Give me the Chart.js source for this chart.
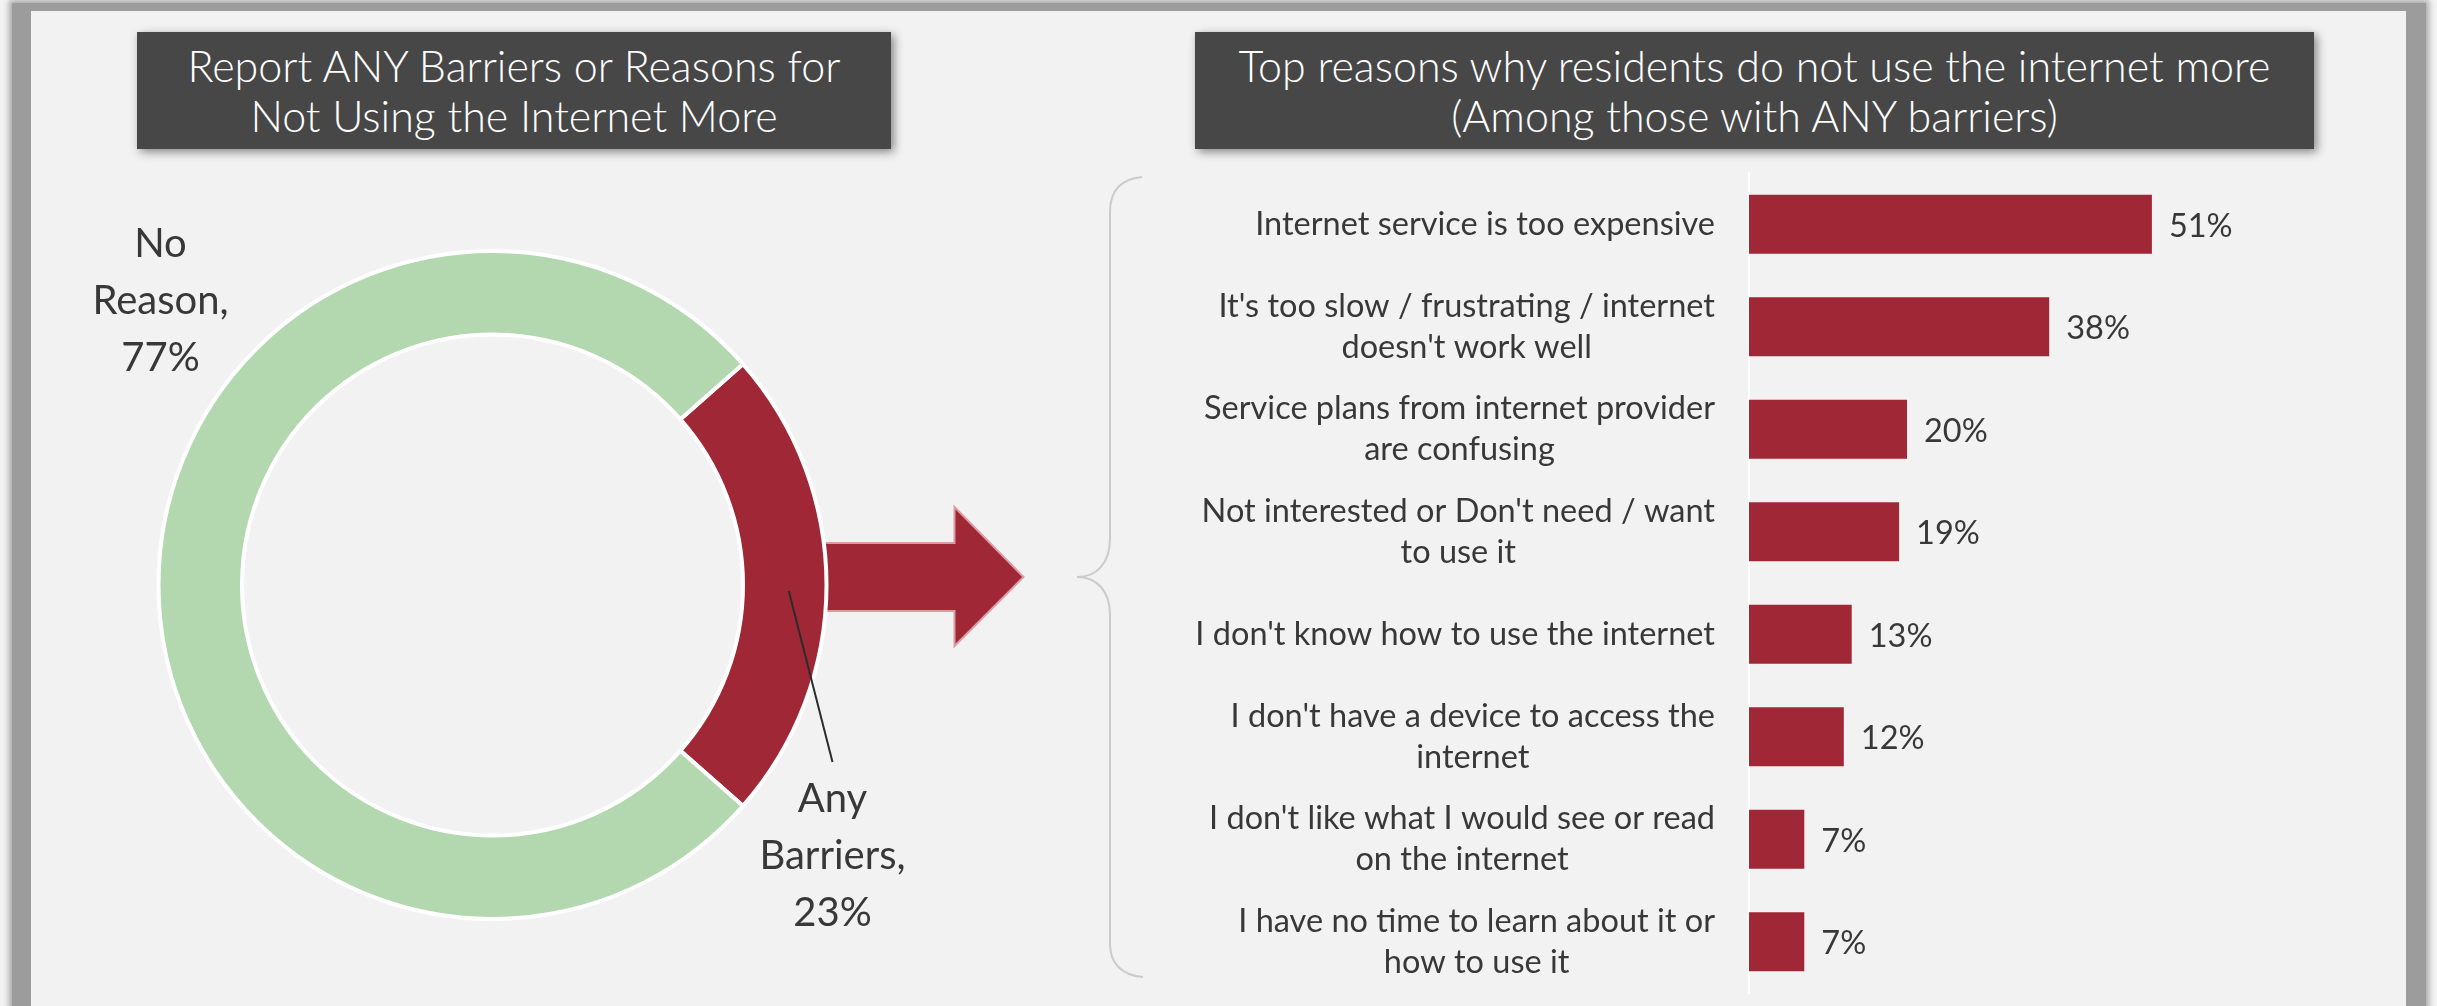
<!DOCTYPE html>
<html>
<head>
<meta charset="utf-8">
<script src="https://cdn.jsdelivr.net/npm/chart.js@4.4.0/dist/chart.umd.min.js"></script>
<style>
  body { margin: 0; width: 2437px; height: 1006px; background: #f3f3f3; overflow: hidden; position: relative; font-family: 'Segoe UI', Lato, sans-serif; }
  .frame { position: absolute; left: 12px; top: 3px; width: 2414px; height: 1100px; background: #9c9c9c; box-shadow: 0 0 6px 3px #a8a8a8; }
  .panel { position: absolute; left: 31px; top: 11px; width: 2375px; height: 1000px; background: #f2f2f2; }
  .title { position: absolute; top: 32px; height: 117px; background: #474747; color: #fff; display: flex; align-items: center; justify-content: center; text-align: center; font-size: 43px; font-weight: 300; line-height: 50px; box-shadow: 3px 3px 9px rgba(0,0,0,0.45); }
  canvas, svg { position: absolute; }
</style>
</head>
<body>
<div class="frame"></div>
<div class="panel"></div>
<div class="title" style="left:137px;width:754px;">Report ANY Barriers or Reasons for<br>Not Using the Internet More</div>
<div class="title" style="left:1195px;width:1119px;">Top reasons why residents do not use the internet more<br>(Among those with ANY barriers)</div>

<svg width="2437" height="1006" style="left:0;top:0;">
  <!-- curly brace joining the donut to the reasons list -->
  <path d="M 1142 177 C 1120 179, 1110 192, 1110 212 L 1110 538 C 1110 563, 1097 577, 1077 577 C 1097 577, 1110 591, 1110 615 L 1110 944 C 1110 962, 1120 975, 1143 977"
        fill="none" stroke="#cbcbcb" stroke-width="2"/>
</svg>

<canvas id="donutChart" width="1020" height="840" style="left:30px;top:160px;"></canvas>
<canvas id="barChart" width="1250" height="840" style="left:1150px;top:160px;"></canvas>

<script>
const FONT = "'Segoe UI', Lato, sans-serif";
const TEXT = '#383838';
const RED = '#a02736';

// donut: share reporting any barrier
const segmentNames = ['Any Barriers', 'No Reason'];
const segmentValues = [23, 77];
const segmentColors = [RED, '#b3d7ae'];

// bars: reasons among those with any barrier
const reasonLabels = [
  ['Internet service is too expensive'],
  ["It's too slow / frustrating / internet", "doesn't work well"],
  ['Service plans from internet provider', 'are confusing'],
  ["Not interested or Don't need / want", 'to use it'],
  ["I don't know how to use the internet"],
  ["I don't have a device to access the", 'internet'],
  ["I don't like what I would see or read", 'on the internet'],
  ['I have no time to learn about it or', 'how to use it']
];
const reasonValues = [51, 38, 20, 19, 13, 12, 7, 7];

// big arrow sitting behind the red segment
const arrowPlugin = {
  id: 'arrow',
  beforeDatasetsDraw(chart) {
    const arc = chart.getDatasetMeta(0).data[0];
    const cx = arc.x, cy = arc.y;
    const ctx = chart.ctx;
    ctx.save();
    ctx.beginPath();
    ctx.moveTo(cx + 250, cy - 42);
    ctx.lineTo(cx + 462, cy - 42);
    ctx.lineTo(cx + 462, cy - 78);
    ctx.lineTo(cx + 531, cy - 8);
    ctx.lineTo(cx + 462, cy + 61);
    ctx.lineTo(cx + 462, cy + 26);
    ctx.lineTo(cx + 250, cy + 26);
    ctx.closePath();
    ctx.fillStyle = RED;
    ctx.fill();
    ctx.strokeStyle = '#dd9aa2';
    ctx.lineWidth = 2;
    ctx.stroke();
    ctx.restore();
  }
};

// outside labels for the donut, with a leader line on the small slice
const donutLabelPlugin = {
  id: 'donutLabels',
  afterDatasetsDraw(chart) {
    const meta = chart.getDatasetMeta(0);
    const ctx = chart.ctx;
    const cx = meta.data[0].x, cy = meta.data[0].y;
    const spots = [{ dx: 340, dy: 227, leader: true }, { dx: -332, dy: -328, leader: false }];
    ctx.save();
    ctx.font = '40px ' + FONT;
    ctx.fillStyle = TEXT;
    ctx.textAlign = 'center';
    ctx.textBaseline = 'alphabetic';
    meta.data.forEach((arc, i) => {
      const words = segmentNames[i].split(' ');
      words[words.length - 1] += ',';
      const lines = [...words, segmentValues[i] + '%'];
      const x = cx + spots[i].dx, y = cy + spots[i].dy;
      lines.forEach((ln, k) => ctx.fillText(ln, x, y + k * 57));
      if (spots[i].leader) {
        const p = arc.getCenterPoint();
        ctx.beginPath();
        ctx.moveTo(p.x + 4, p.y + 6);
        ctx.lineTo(x, y - 50);
        ctx.strokeStyle = '#2b2b2b';
        ctx.lineWidth = 2;
        ctx.stroke();
      }
    });
    ctx.restore();
  }
};

new Chart(document.getElementById('donutChart'), {
  type: 'doughnut',
  data: {
    labels: segmentNames,
    datasets: [{
      data: segmentValues,
      backgroundColor: segmentColors,
      borderColor: '#ffffff',
      borderWidth: 4
    }]
  },
  options: {
    responsive: false,
    devicePixelRatio: 1,
    animation: false,
    cutout: '75%',
    rotation: 90 - segmentValues[0] * 1.8,
    layout: { padding: { left: 126, right: 221, top: 89, bottom: 79 } },
    plugins: { legend: { display: false }, tooltip: { enabled: false } }
  },
  plugins: [arrowPlugin, donutLabelPlugin]
});

// category names (centred lines, block right-aligned) and value labels
const barTextPlugin = {
  id: 'barText',
  afterDatasetsDraw(chart) {
    const ctx = chart.ctx;
    const area = chart.chartArea;
    const bars = chart.getDatasetMeta(0).data;
    ctx.save();
    ctx.font = '32.5px ' + FONT;
    ctx.fillStyle = TEXT;
    ctx.textBaseline = 'middle';
    bars.forEach((bar, i) => {
      const lines = reasonLabels[i];
      const w = Math.max(...lines.map(l => ctx.measureText(l).width));
      const mid = area.left - 34 - w / 2;
      const lh = 41;
      const top = bar.y - (lines.length - 1) * lh / 2;
      ctx.textAlign = 'center';
      lines.forEach((l, k) => ctx.fillText(l, mid, top + k * lh));
      ctx.textAlign = 'left';
      ctx.fillText(reasonValues[i] + '%', bar.x + 17, bar.y + 2);
    });
    ctx.restore();
  }
};

new Chart(document.getElementById('barChart'), {
  type: 'bar',
  data: {
    labels: reasonLabels,
    datasets: [{
      data: reasonValues,
      backgroundColor: RED,
      categoryPercentage: 1,
      barPercentage: 0.576
    }]
  },
  options: {
    indexAxis: 'y',
    responsive: false,
    devicePixelRatio: 1,
    animation: false,
    layout: { padding: { left: 0, right: 19, top: 13, bottom: 7 } },
    scales: {
      x: { display: false, min: 0, max: 80 },
      y: {
        grid: { display: false, drawTicks: false },
        border: { display: true, color: '#ffffff', width: 2 },
        ticks: { display: false },
        afterFit(scale) { scale.width = 599; }
      }
    },
    plugins: { legend: { display: false }, tooltip: { enabled: false } }
  },
  plugins: [barTextPlugin]
});
</script>
</body>
</html>
